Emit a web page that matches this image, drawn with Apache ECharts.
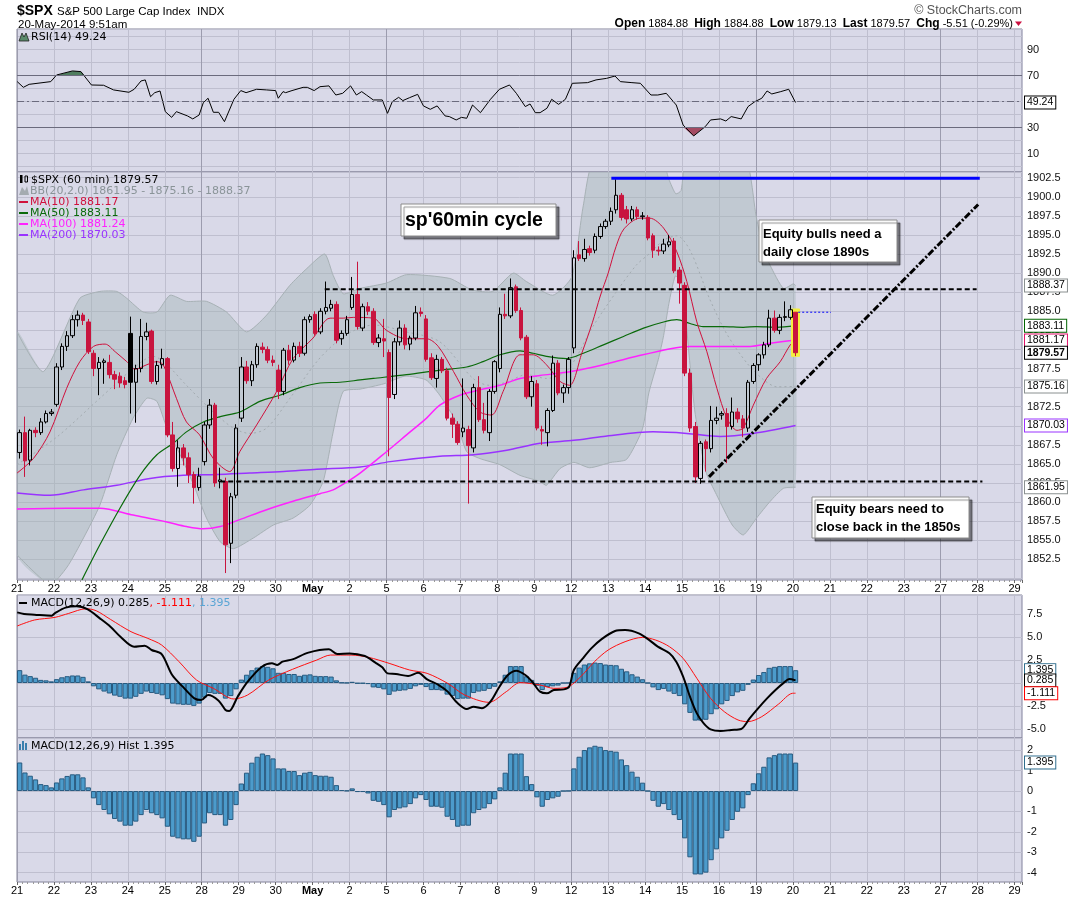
<!DOCTYPE html>
<html><head><meta charset="utf-8">
<script src="https://cdn.jsdelivr.net/npm/echarts@6/dist/echarts.min.js"></script>
<style>html,body{margin:0;padding:0;background:#fff}#c{width:1075px;height:897px}</style>
</head><body><div id="c"></div>
<script>
// ---------------- DATA ----------------
const dayLabels = ['21','22','23','24','25','28','29','30','May','2','5','6','7','8','9','12','13','14','15','16','19','20','21','22','23','27','28','29'];

const open = [
1866.5,1869.1,1865.5,1869.4,1869.1,1870.5,1871.6,
1872.8,1877.7,1880.4,1881.8,1883.9,1884.5,1883.6,
1879.5,1877.5,1878.3,1878.3,1876.7,1876.5,1875.9,
1882.1,1875.7,1877.5,1881.7,1882.4,1875.8,1878.0,
1878.8,1868.8,1864.4,1867.1,1865.8,1863.6,1861.9,
1865.3,1870.1,1872.7,1862.7,1862.7,1854.6,1860.9,
1871.0,1877.7,1875.9,1878.0,1880.3,1880.0,1878.6,
1877.3,1874.5,1879.9,1878.6,1880.4,1879.5,1883.9,
1884.6,1882.3,1885.0,1885.4,1885.9,1881.4,1882.1,
1885.5,1887.2,1882.8,1885.6,1885.0,1880.9,1881.4,
1879.6,1874.1,1881.0,1882.8,1880.7,1881.5,1884.9,
1884.0,1878.9,1876.2,1878.7,1877.2,1871.0,1870.2,
1869.2,1869.5,1867.1,1875.0,1870.8,1869.1,1874.5,
1877.5,1884.6,1884.4,1888.2,1885.1,1881.6,1873.8,
1875.5,1869.5,1869.1,1872.0,1878.2,1874.3,1875.0,
1880.2,1892.4,1891.9,1893.2,1893.0,1894.8,1896.1,
1896.8,1898.3,1900.2,1898.3,1897.1,1898.3,1897.4,
1897.3,1894.9,1893.0,1892.9,1893.7,1894.2,1890.4,
1888.4,1876.9,1869.9,1863.1,1867.9,1867.0,1870.7,
1871.4,1871.6,1869.9,1871.8,1870.9,1869.7,1875.8,
1878.0,1879.3,1880.6,1884.1,1882.5,1884.2,1884.2,
1884.88];
const high = [
1869.5,1871.2,1869.6,1869.8,1871.0,1872.0,1872.2,
1878.2,1880.8,1882.4,1884.5,1885.1,1884.8,1884.0,
1879.9,1879.0,1878.8,1879.3,1877.2,1877.0,1876.4,
1884.3,1878.0,1884.0,1883.5,1882.6,1878.5,1880.1,
1879.0,1870.5,1868.1,1867.6,1866.5,1864.0,1864.5,
1870.5,1873.5,1873.0,1864.5,1863.2,1861.2,1870.2,
1879.0,1878.5,1878.5,1880.8,1880.9,1880.4,1879.2,
1878.0,1880.2,1880.6,1880.9,1881.0,1884.3,1884.6,
1885.0,1885.4,1888.9,1886.5,1886.3,1882.5,1884.4,
1889.5,1891.5,1886.0,1886.2,1885.4,1882.0,1884.0,
1880.0,1881.5,1883.8,1883.3,1881.8,1885.7,1885.5,
1884.5,1879.5,1879.3,1879.0,1877.6,1871.6,1870.6,
1876.2,1870.0,1875.5,1876.5,1873.0,1874.8,1878.6,
1885.5,1887.3,1889.3,1888.5,1885.5,1881.9,1876.5,
1876.0,1870.0,1872.3,1879.2,1878.6,1875.4,1879.0,
1893.0,1894.2,1894.5,1893.6,1895.2,1896.5,1897.1,
1898.6,1902.3,1900.5,1898.8,1898.8,1898.7,1898.0,
1897.6,1895.2,1893.5,1894.5,1895.0,1894.6,1890.8,
1888.8,1877.5,1870.5,1868.0,1868.2,1872.6,1872.5,
1871.9,1872.3,1873.7,1872.3,1871.4,1876.0,1878.2,
1879.5,1881.0,1885.2,1885.1,1884.6,1886.3,1885.8,
1884.88];
const low = [
1865.7,1863.3,1864.8,1868.5,1868.8,1870.3,1871.3,
1872.5,1877.3,1879.8,1881.5,1883.0,1883.2,1879.4,
1876.5,1874.0,1875.5,1876.2,1874.8,1875.0,1874.9,
1871.6,1870.4,1877.0,1881.2,1875.5,1875.4,1877.5,
1868.5,1864.0,1862.0,1864.8,1862.5,1859.8,1861.5,
1864.8,1869.6,1862.0,1861.8,1850.7,1852.0,1860.5,
1870.5,1875.5,1875.2,1877.6,1879.5,1878.2,1877.8,
1873.5,1874.0,1878.0,1878.3,1879.0,1879.2,1883.5,
1881.8,1882.0,1884.6,1885.0,1880.8,1880.6,1881.8,
1885.2,1882.6,1882.4,1884.5,1880.6,1880.3,1879.0,
1866.0,1873.5,1880.5,1880.0,1879.9,1881.2,1884.3,
1878.4,1876.0,1875.0,1876.9,1870.7,1868.4,1867.5,
1868.5,1859.8,1866.5,1870.5,1869.0,1868.0,1874.2,
1877.0,1884.0,1884.1,1884.8,1881.2,1873.5,1872.5,
1869.4,1867.5,1867.3,1871.8,1874.0,1873.0,1874.2,
1879.5,1891.6,1891.5,1892.3,1892.6,1894.5,1895.8,
1896.3,1897.8,1896.9,1896.5,1896.8,1897.0,1897.0,
1894.3,1892.0,1892.3,1892.5,1893.4,1890.0,1886.0,
1876.5,1869.2,1862.5,1862.4,1864.0,1866.5,1870.2,
1870.8,1865.1,1869.5,1870.4,1868.5,1869.2,1875.5,
1877.2,1878.8,1880.3,1882.2,1882.0,1883.7,1883.9,
1879.13];
const close = [
1869.1,1865.4,1869.4,1869.1,1870.5,1871.6,1871.8,
1877.7,1880.4,1881.8,1883.9,1884.5,1883.8,1879.7,
1877.5,1878.3,1878.5,1876.7,1876.1,1875.6,1875.4,
1875.7,1877.5,1881.7,1882.3,1875.8,1877.9,1878.8,
1868.8,1864.4,1867.1,1865.8,1863.6,1861.9,1863.4,
1870.1,1872.7,1862.5,1862.9,1854.4,1860.7,1869.7,
1877.7,1875.9,1878.0,1880.4,1880.0,1878.6,1878.3,
1874.5,1879.9,1878.6,1880.4,1879.5,1883.9,1884.3,
1882.1,1885.0,1885.5,1885.9,1881.2,1882.1,1883.9,
1887.2,1883.0,1885.6,1885.0,1880.9,1881.5,1881.1,
1873.7,1881.0,1882.8,1880.6,1881.5,1884.8,1884.7,
1878.7,1876.3,1878.7,1877.2,1871.0,1870.2,1867.8,
1869.7,1867.4,1875.0,1870.8,1869.4,1874.5,1878.4,
1884.6,1884.4,1888.1,1885.1,1881.5,1873.8,1875.8,
1869.7,1869.3,1872.0,1878.2,1874.3,1875.0,1878.7,
1892.0,1891.9,1893.1,1892.7,1894.8,1896.1,1896.8,
1898.1,1900.2,1897.3,1897.1,1898.3,1897.4,1897.5,
1894.6,1893.0,1892.9,1893.8,1894.1,1890.3,1888.7,
1876.9,1869.7,1863.3,1867.7,1867.0,1870.7,1871.0,
1871.6,1869.9,1871.8,1870.9,1869.7,1875.7,1877.9,
1879.3,1880.6,1884.1,1882.5,1884.2,1884.3,1885.2,
1879.57];

// line readings: [bar index, value]
const ma10 = [[-0.5,1863.8],[2.6,1865.7],[5.75,1869.2],[8.9,1874.9],[11.4,1878.4],[14,1880.4],[16.2,1880.7],[18.1,1879.7],[20.3,1878.4],[21.9,1877.4],[24.1,1878],[26,1878.4],[27.2,1878],[29.7,1873.6],[31.6,1870.5],[34.1,1868.8],[36.7,1865.7],[39.8,1864],[41.7,1866.6],[44.9,1870.1],[48.7,1874.5],[51.8,1878.8],[55.6,1881.5],[58.8,1884.1],[61.3,1884.1],[63.2,1884.2],[67,1884.1],[69.5,1882.5],[73.3,1881.4],[77.1,1881.4],[79.3,1880.4],[82.2,1877.1],[84.7,1874],[87.2,1871.8],[89.4,1871.4],[91.6,1874.5],[94.8,1879.3],[97.3,1879.3],[99.8,1878],[102.4,1875.8],[104.2,1875.3],[106.5,1879.5],[108.5,1883.5],[110,1887],[111.5,1890],[113,1893.5],[114.5,1895.8],[117.5,1897.2],[119.4,1897.2],[122,1895.9],[124.5,1892.8],[126.4,1888.9],[128.3,1883.6],[130.2,1879.7],[132.1,1874.9],[134,1871],[135.9,1869.4],[137.1,1869.7],[139,1872.7],[141.5,1876.2],[144.1,1878.4],[146,1880.6],[147,1881.17]];
const ma50 = [[11.8,1849.8],[15.2,1854.4],[19,1859.2],[22.8,1863.5],[26,1866.2],[29.1,1867.7],[31.6,1869.2],[34.8,1870.5],[38,1871.2],[41.7,1871.8],[45.5,1873.2],[49.3,1874],[53.1,1875],[56.9,1875.6],[60.7,1875.7],[64.5,1876],[67,1876.2],[73.3,1876.7],[79.6,1877.3],[84.7,1877.7],[87.8,1878.4],[91,1879.3],[94.8,1879.8],[97.3,1879.5],[99.8,1879.1],[103.6,1878.8],[106.8,1879.5],[110.6,1880.6],[114.4,1881.7],[118.2,1882.8],[122,1883.6],[124.5,1883.9],[127,1883.4],[129.5,1883],[133.3,1883],[137.1,1882.9],[139.6,1883],[143.4,1882.9],[147,1883.11]];
const ma100 = [[-0.5,1859.1],[8.9,1859.2],[15.2,1859.2],[21.5,1858.3],[27.9,1857.4],[31.6,1856.8],[34.8,1856.5],[38,1856.8],[41.7,1857.7],[46.8,1859],[51.8,1860.1],[56.9,1861.1],[59.4,1861.6],[61.9,1862.6],[64.5,1863.8],[69.5,1866.6],[73.3,1868.8],[77.1,1871],[79.6,1872.7],[83.4,1874],[87.2,1874.7],[91,1875.3],[94.8,1876.2],[98.6,1876.6],[103.6,1877],[108.1,1877.6],[110.6,1878],[116.9,1879.1],[123.3,1880.1],[127,1880.4],[132.7,1880.4],[138.4,1880.4],[142.2,1880.8],[147,1881.24]];
const ma200 = [[-0.5,1861.2],[5.75,1860.9],[12.1,1861.6],[18.4,1862.2],[24.7,1863.1],[31,1863.5],[37.3,1863.6],[43.6,1863.8],[50,1864],[56.3,1864.3],[64.5,1864.6],[70.2,1865.3],[79.6,1866],[86,1866.2],[92.3,1866.8],[98.6,1867.7],[105,1868.1],[110.6,1868.6],[120,1869.2],[126.4,1869],[132.7,1868.6],[139,1869],[147,1870.03]];
const bbUpper = [[-0.5,1882.3],[4.5,1877.1],[11.4,1886.7],[15.2,1887.6],[18.4,1887.6],[20.3,1886.7],[23.4,1884.9],[26,1884.9],[28.5,1887.1],[31.6,1886.3],[35.4,1886.3],[39.2,1884.9],[43,1882.3],[46.8,1884.5],[51.2,1888.4],[54.4,1890.6],[57.8,1892.5],[59.4,1889.7],[61.3,1887.3],[64.5,1888],[69.5,1888.7],[73.3,1889.8],[81.5,1889.3],[85.7,1887.8],[89.6,1887.6],[93.5,1890],[96,1888.9],[101,1887.1],[104.6,1889.5],[106.8,1898.9],[109,1905],[121,1906],[123,1902.3],[124.3,1900.4],[125.3,1900.8],[126.5,1905],[137,1906],[139.6,1897.2],[140.9,1893.2],[142.2,1891],[144.7,1888],[146.6,1888.6],[147,1888.37]];
const bbLower = [[-0.5,1853.1],[5.75,1849.2],[9,1851.5],[12.1,1855.3],[15.2,1859.6],[18.4,1866.2],[21.5,1871],[24.1,1873.6],[26,1873.2],[27.9,1869.7],[30.4,1866.2],[33,1862.2],[35.4,1857.9],[38,1854.8],[40.5,1853.9],[44.3,1855.3],[48.1,1857],[51.8,1857.9],[55,1859.6],[57.5,1862.7],[59.4,1869.2],[61.3,1874.5],[64.5,1874.8],[69,1875.5],[73,1876.5],[77,1876],[79.6,1874],[82.7,1870.5],[84.7,1866.6],[87.2,1865.7],[91,1864.9],[94.8,1863.5],[98.6,1862.7],[99.8,1862.2],[102.4,1864.4],[105,1865.2],[108,1864.5],[112,1865.2],[115,1865.6],[118,1869.6],[119.2,1874.3],[121,1878.7],[122,1881.8],[123,1886],[124.2,1889.6],[125.2,1889],[126.2,1884],[127,1878],[128,1871.5],[130,1864],[132,1861],[135,1857],[137.1,1855.7],[139.6,1857.9],[142.2,1860.1],[144.7,1861.8],[147,1861.95]];
const bbMid = [[-0.5,1864.9],[7,1868.5],[15.2,1873.6],[21.5,1877.5],[25.3,1879.1],[27.9,1878],[31.6,1875.3],[36.7,1871.8],[40.5,1869.7],[43.6,1869],[46.8,1869.7],[51.2,1873.6],[56.3,1878.4],[59.4,1880.6],[62.5,1882.2],[67,1883.2],[73.3,1882.3],[79.6,1881],[85.9,1876.2],[89,1875.3],[92.2,1875.7],[96,1876.7],[99.8,1876.2],[103.8,1877.3],[108.6,1883],[113,1887.5],[116.9,1891.1],[119.4,1892.6],[122,1894.3],[124.5,1894.9],[127,1893],[130.8,1886.5],[134,1882],[137.8,1878.2],[141,1876],[143.5,1875.1],[147,1875.16]];
const rsi = [[-0.46,65.3],[0.7,60.9],[1.8,63.2],[5.9,65.3],[7,70.4],[10,73.5],[11.6,73],[13.6,62.7],[15.9,62.5],[17.8,58.9],[20.7,57.1],[21.7,59.4],[23,65.8],[23.8,66.6],[24.8,53.7],[25.6,56.8],[26.6,58.1],[27.6,42.2],[28.8,37.8],[29.7,42.2],[31.8,38.9],[32.8,36.6],[34,39.6],[34.8,49.1],[35.7,52.5],[36.7,41.7],[37.7,41.7],[38.8,34.5],[40.6,51.7],[41.9,58.4],[42.9,56.8],[44.9,59.4],[46.8,58.9],[48.5,58.4],[49,52.5],[49.9,57.6],[50.4,56.8],[51.6,58.4],[53.7,60.9],[54.5,60.9],[55.8,58.4],[56.9,61.4],[58.6,62],[59.9,55],[61.2,56.3],[62.7,62],[63.8,55],[64.8,57.6],[65.7,55],[67,51.2],[68.7,51.2],[69.7,40.9],[70.6,49.9],[71.8,53.2],[72.6,50.7],[73.9,53],[75.4,55.5],[76.5,46.6],[77.8,44],[79.1,46.6],[80.6,38.9],[81.4,38.4],[82.7,35.8],[83.7,37.8],[84.7,37.1],[85.8,47.3],[87.3,41.4],[89.2,51.7],[90.9,59.4],[92.8,62.7],[94.1,56.3],[95.8,46.1],[96.7,48.1],[97.7,41.4],[98.6,41.4],[99.9,44.8],[100.8,51.7],[102.1,47.8],[103.4,51.7],[104.7,64],[107.6,64.5],[109.2,66.6],[111.2,67.8],[112.8,69.6],[113.8,65.3],[116,64.5],[117.6,64],[119.6,55],[120.9,55],[122.5,56.3],[124.4,47.3],[125.7,31.9],[127.7,23.5],[129.9,30.7],[130.9,35.8],[132.8,36.6],[133.8,35],[134.8,38.4],[136.7,36.6],[138,46.1],[139.3,49.9],[140.6,52.5],[141.6,58.1],[142.5,55.8],[144.2,57.6],[145.7,59.4],[147,49.24]];
const rsiOverbought = [[6.9,70],[7,70.4],[10,73.5],[11.6,73],[12.3,70]];
const rsiOversold = [[125.8,30],[127.7,23.5],[129.6,30]];
const macd = [[-0.46,7.68],[0.84,7.5],[2.8,7.43],[6.07,7.32],[6.7,7.6],[8.7,8.2],[10.8,8.35],[12.9,8.0],[15.2,7.03],[17.2,6.12],[19.1,5.03],[21.7,3.95],[23.7,4.06],[25,3.59],[26.9,3.15],[28.9,0.87],[30.9,-0.4],[33.1,-1.67],[34.4,-1.85],[35.7,-1.3],[37.7,-1.92],[39,-2.93],[39.7,-3.04],[41.3,-1.49],[43.2,0.14],[45.9,1.77],[47.8,2.14],[48.8,1.96],[49.8,2.32],[51.7,2.57],[54.7,3.3],[58.6,3.66],[60.2,3.15],[62.5,3.22],[65.4,2.93],[67.4,2.21],[68.7,1.7],[69.7,1.05],[71.3,0.98],[73.6,0.76],[75.5,1.12],[77.2,0.4],[79.4,-0.22],[81.1,-0.94],[83,-2.21],[84.7,-2.83],[86,-2.58],[87.6,-2.75],[89.2,-2.03],[90.9,-0.4],[92.5,0.87],[94.1,1.34],[95.8,0.87],[97.1,0.14],[98.6,-0.94],[99.9,-1.12],[101.2,-0.76],[103.1,-0.69],[104.1,-0.4],[105,1.41],[106.7,2.68],[108.3,3.77],[110.2,4.75],[112.8,5.65],[114.7,5.76],[117.3,5.4],[119.3,4.67],[120.9,3.95],[123.1,3.23],[124.4,2.32],[125.7,0.69],[127,-1.49],[128.3,-3.3],[129.6,-4.38],[130.9,-5.04],[132.8,-5.22],[134.8,-5.11],[136.7,-5.0],[138.3,-3.84],[139.9,-2.75],[141.6,-1.67],[143.2,-0.76],[144.8,0.04],[145.8,0.43],[147,0.285]];
const signal = [[-0.46,6.2],[2.8,6.85],[6.7,7.14],[9.3,7.57],[12.6,8.08],[14.5,7.86],[17.2,6.92],[21.1,5.58],[24.3,4.85],[26.9,4.13],[30.2,2.32],[33.5,0.33],[36.7,-0.58],[40.6,-1.74],[43.2,-1.3],[47.2,0.33],[51.7,1.49],[56.3,2.5],[58.9,3.04],[62.8,3.04],[66.1,2.79],[70,2.14],[73.9,1.41],[77.2,1.05],[81.1,-0.04],[84.3,-1.3],[88.9,-2.1],[92.2,-0.94],[94.8,0.04],[98.6,-0.22],[101.2,-0.58],[103.7,-0.47],[106.3,0.69],[108.9,2.32],[111.5,3.59],[114.7,4.49],[118,4.96],[120.5,4.67],[123.1,3.95],[125.7,2.68],[128.3,0.51],[130.9,-1.67],[133.5,-3.12],[136.1,-4.02],[138,-4.2],[140.6,-3.66],[143.8,-2.28],[146.4,-1.12],[147,-1.111]];
const hist = [1.40,0.91,0.75,0.57,0.34,0.29,0.18,
0.42,0.62,0.74,0.82,0.82,0.67,0.18,
-0.36,-0.69,-0.93,-1.14,-1.37,-1.50,-1.70,
-1.70,-1.50,-1.18,-0.93,-1.09,-1.18,-1.34,
-1.75,-2.24,-2.32,-2.37,-2.37,-2.49,-2.24,
-1.59,-1.09,-1.18,-1.18,-1.70,-1.42,-0.69,
0.37,0.90,1.39,1.68,1.84,1.76,1.60,
1.11,1.11,0.98,0.98,0.78,0.90,0.94,
0.78,0.75,0.75,0.70,0.29,0.05,0.02,
0.13,-0.05,-0.05,-0.12,-0.48,-0.53,-0.69,
-1.29,-0.93,-0.85,-0.80,-0.64,-0.36,-0.20,
-0.44,-0.77,-0.77,-0.82,-1.26,-1.42,-1.75,
-1.70,-1.70,-1.09,-0.93,-0.85,-0.64,-0.41,
0.18,0.90,1.84,1.84,1.84,0.73,0.34,
-0.31,-0.77,-0.44,-0.36,-0.28,0.00,0.01,
1.11,1.68,2.01,2.14,2.22,2.17,2.01,
1.97,1.93,1.55,1.27,0.95,0.70,0.41,
0.00,-0.48,-0.77,-0.64,-0.93,-1.18,-1.42,
-2.32,-3.25,-4.09,-4.09,-4.00,-3.39,-2.86,
-2.32,-1.95,-1.42,-1.02,-0.85,-0.20,0.38,
0.87,1.19,1.65,1.76,1.84,1.84,1.84,
1.395];

// annotations (bar-index x, price)
const blueLine = [[112.6,1902.43],[182.4,1902.43]];
const upperDashed = [[57.8,1887.9],[181.3,1887.9]];
const lowerDashed = [[38,1862.7],[182.4,1862.7]];
const trendLine = [[130.6,1863.3],[181.6,1899.0]];
const openDotted = [[147.5,1884.88],[153.7,1884.88]];
const highlightBox = [1885.3, 1879.1];
const mainTags = [1888.37, 1883.11, 1881.17, 1879.57, 1875.16, 1870.03, 1861.95];
const rsiTag = [49.24];
const macdTags = [1.395, 0.285, -1.111];
const histTag = [1.395];

// ---------------- STYLE ----------------
const BG = '#d9d9e8', GRD = '#bfbfcf', MON = '#9c9cae', BRD = '#85859a';
const AX = 'Liberation Sans', LG = 'DejaVu Sans';
const RED = '#c8143e';
const toXY = arr => arr.map(p => [p[0] + 0.5, p[1]]);

function xAx(gi, show) {
  return {
    type: 'value', gridIndex: gi, min: 0, max: 190.4, minInterval: 7, maxInterval: 7,
    axisLine: {show: false, onZero: false},
    axisTick: {show: show, length: 3, lineStyle: {color: '#666'}},
    minorTick: {show: show, splitNumber: 7, length: 2, lineStyle: {color: '#999'}},
    axisLabel: {
      show: show, margin: 3, fontFamily: AX, fontSize: 11, color: '#000',
      formatter: function (v) {
        const k = Math.round(v / 7);
        if (Math.abs(v - k * 7) > 0.01 || k >= dayLabels.length) return '';
        return dayLabels[k] === 'May' ? '{m|May}' : dayLabels[k];
      },
      rich: {m: {fontFamily: AX, fontSize: 11, fontWeight: 'bold', color: '#000'}}
    },
    splitLine: {show: true, lineStyle: {color: [MON, GRD, GRD, GRD, GRD], width: 1}}
  };
}
function yAx(gi, min, max, step, fmt) {
  return {
    type: 'value', gridIndex: gi, position: 'right', min: min, max: max,
    minInterval: step, maxInterval: step, splitNumber: 5,
    axisLine: {show: false, onZero: false}, axisTick: {show: false},
    axisLabel: {margin: 5, fontFamily: AX, fontSize: 11, color: '#111', formatter: fmt},
    splitLine: {show: true, lineStyle: {color: GRD, width: 1}}
  };
}
function tag(v, border, bold) {
  return {
    yAxis: v, lineStyle: {color: 'rgba(0,0,0,0)', width: 0},
    label: {
      show: true, position: 'end', distance: 3, formatter: String(v),
      backgroundColor: '#fff', borderColor: border, borderWidth: 1, padding: [1, 2, 0, 2],
      fontFamily: AX, fontSize: 10.5, lineHeight: 11, color: '#000', fontWeight: bold ? 'bold' : 'normal'
    }
  };
}
function lineSeries(gi, data, color, width, extra) {
  return Object.assign({
    type: 'line', xAxisIndex: gi, yAxisIndex: gi, data: toXY(data), showSymbol: false, symbol: 'none',
    lineStyle: {color: color, width: width}, silent: true, z: 3, animation: false
  }, extra || {});
}

const candleData = open.map(function (o, i) {
  const c = close[i];
  const prev = i > 0 ? close[i - 1] : o;
  const col = c < prev ? RED : '#000';
  const fill = c >= o ? 'rgba(0,0,0,0)' : col;
  return {value: [i + 0.5, o, c, low[i], high[i]],
    itemStyle: {color: fill, color0: fill, borderColor: col, borderColor0: col, borderColorDoji: col, borderWidth: 1}};
});
const histData = hist.map((v, i) => [i + 0.5, v]);

const mainTagColors = ['#8a9090', '#006400', '#e0106a', '#000', '#8a9090', '#9933ff', '#8a9090'];

const series = [
  // RSI
  lineSeries(0, rsiOverbought, 'rgba(0,0,0,0)', 0, {areaStyle: {origin: 70, color: '#4f7d5e', opacity: 1}, z: 2}),
  lineSeries(0, rsiOversold, 'rgba(0,0,0,0)', 0, {areaStyle: {origin: 30, color: '#a34a62', opacity: 1}, z: 2}),
  lineSeries(0, rsi, '#000', 1, {
    markLine: {silent: true, symbol: 'none', animation: false, data: [
      {yAxis: 70, lineStyle: {color: '#6b6b7d', width: 1, type: 'solid'}, label: {show: false}},
      {yAxis: 30, lineStyle: {color: '#6b6b7d', width: 1, type: 'solid'}, label: {show: false}},
      {yAxis: 50, lineStyle: {color: '#6b6b7d', width: 1, type: [7, 3, 2, 3]}, label: {show: false}},
      tag(rsiTag[0], '#000', false)
    ]}
  }),
  // Bollinger band
  {
    type: 'custom', xAxisIndex: 1, yAxisIndex: 1, z: 1, silent: true, clip: true, animation: false,
    data: [[1, 1870]],
    renderItem: function (params, api) {
      const up = toXY(bbUpper).map(p => api.coord(p));
      const lo = toXY(bbLower).map(p => api.coord(p));
      const poly = up.concat(lo.slice().reverse());
      return {type: 'group', children: [
        {type: 'polygon', shape: {points: poly, smooth: 0.2}, style: {fill: 'rgba(160,178,178,0.42)'}},
        {type: 'polyline', shape: {points: up, smooth: 0.2}, style: {stroke: '#a7b1b5', fill: null, lineWidth: 1}},
        {type: 'polyline', shape: {points: lo, smooth: 0.2}, style: {stroke: '#a7b1b5', fill: null, lineWidth: 1}}
      ]};
    }
  },
  lineSeries(1, bbMid, '#a3abb0', 1, {lineStyle: {color: '#a3abb0', width: 1, type: [2, 3]}, smooth: 0.3, z: 2}),
  lineSeries(1, ma200, '#9933ff', 1.5, {smooth: 0.3}),
  lineSeries(1, ma100, '#ff22ff', 1.5, {smooth: 0.3}),
  lineSeries(1, ma50, '#0a6a0a', 1.2, {smooth: 0.3}),
  lineSeries(1, ma10, '#d0103c', 1, {smooth: 0.3}),
  // highlight of last candle
  {
    type: 'candlestick', xAxisIndex: 1, yAxisIndex: 1, barWidth: 8, z: 4, silent: true, animation: false,
    encode: {x: 0, y: [1, 2, 3, 4]},
    data: [{value: [147.5, highlightBox[0], highlightBox[1], highlightBox[1], highlightBox[0]],
      itemStyle: {color: '#f4f040', color0: '#f4f040', borderColor: '#f4f040', borderColor0: '#f4f040'}}]
  },
  // candles
  {
    type: 'candlestick', xAxisIndex: 1, yAxisIndex: 1, barWidth: 4, z: 5, silent: true, animation: false,
    encode: {x: 0, y: [1, 2, 3, 4]},
    data: candleData,
    markLine: {silent: true, symbol: 'none', animation: false, z: 10,
      data: mainTags.map((v, k) => tag(v, mainTagColors[k], k === 3))}
  },
  // annotations
  lineSeries(1, blueLine.map(p => [p[0] - 0.5, p[1]]), '#0000ff', 3, {z: 6}),
  lineSeries(1, upperDashed, '#000', 2, {lineStyle: {color: '#000', width: 2, type: [5, 3]}, z: 6}),
  lineSeries(1, lowerDashed, '#000', 2, {lineStyle: {color: '#000', width: 2, type: [5, 3]}, z: 6}),
  lineSeries(1, trendLine, '#000', 3, {lineStyle: {color: '#000', width: 3, type: [7, 2, 2, 2]}, z: 6}),
  lineSeries(1, openDotted, '#0000ff', 1, {lineStyle: {color: '#0000ff', width: 1, type: [2, 2]}, z: 6}),
  // MACD
  {
    type: 'bar', xAxisIndex: 2, yAxisIndex: 2, data: histData, barWidth: 5.28, z: 2, silent: true, animation: false,
    itemStyle: {color: '#4c9bcb', borderColor: '#285b80', borderWidth: 1}
  },
  lineSeries(2, signal, '#ff1010', 1, {smooth: 0.3}),
  lineSeries(2, macd, '#000', 2, {smooth: 0.3, z: 4,
    markLine: {silent: true, symbol: 'none', animation: false, z: 10, data: [
      tag(macdTags[0], '#2f6d8d', false), tag(macdTags[1], '#000', false), tag(macdTags[2], '#ff0000', false)
    ]}
  }),
  // Histogram panel
  {
    type: 'bar', xAxisIndex: 3, yAxisIndex: 3, data: histData, barWidth: 5.28, z: 2, silent: true, animation: false,
    itemStyle: {color: '#4c9bcb', borderColor: '#285b80', borderWidth: 1},
    markLine: {silent: true, symbol: 'none', animation: false, z: 10, data: [tag(histTag[0], '#2f6d8d', false)]}
  }
];

function txt(x, y, text, font, fill, extra) {
  return Object.assign({type: 'text', x: x, y: y, z: 100, silent: true,
    style: {text: text, font: font, fill: fill || '#000', verticalAlign: 'middle', align: 'left'}}, extra || {});
}
function box(x, y, w, h) {
  return {type: 'rect', z: 99, silent: true, shape: {x: x, y: y, width: w, height: h},
    style: {fill: '#fff', stroke: '#8a8a8a', lineWidth: 1, shadowColor: 'rgba(0,0,0,0.45)', shadowOffsetX: 3, shadowOffsetY: 3, shadowBlur: 1}};
}
const LF = '11px "' + LG + '"';
const graphics = [
  txt(17, 11, '$SPX', 'bold 14px "' + AX + '"'),
  txt(57, 12, 'S&P 500 Large Cap Index  INDX', '11.5px "' + AX + '"'),
  txt(18, 24.5, '20-May-2014 9:51am', '11.5px "' + AX + '"'),
  {type: 'text', x: 1022, y: 11, z: 100, silent: true, style: {text: '\u00a9 StockCharts.com', font: '12.5px "' + AX + '"', fill: '#555', align: 'right', verticalAlign: 'middle'}},
  {type: 'text', x: 1013, y: 24, z: 100, silent: true, style: {
    text: '{b|Open} 1884.88  {b|High} 1884.88  {b|Low} 1879.13  {b|Last} 1879.57  {b|Chg} -5.51 (-0.29%)',
    font: '11px "' + AX + '"', fill: '#000', align: 'right', verticalAlign: 'middle',
    rich: {b: {fontFamily: AX, fontSize: 12, fontWeight: 'bold', fill: '#000'}}}},
  {type: 'polygon', z: 100, silent: true, shape: {points: [[1015, 21.5], [1022, 21.5], [1018.5, 26]]}, style: {fill: '#cc1040'}},
  // RSI legend
  {type: 'polygon', z: 100, silent: true, shape: {points: [[19, 41], [22, 33], [24, 37], [26, 33], [29, 41]]}, style: {fill: '#5a8a6a', stroke: '#222', lineWidth: 0.8}},
  txt(31, 37, 'RSI(14) 49.24', LF),
  // main legend
  {type: 'rect', z: 100, silent: true, shape: {x: 20, y: 175, width: 2.5, height: 8}, style: {fill: '#000'}},
  {type: 'rect', z: 100, silent: true, shape: {x: 25, y: 176, width: 2.5, height: 6}, style: {fill: 'none', stroke: '#000', lineWidth: 1}},
  txt(31, 180, '$SPX (60 min) 1879.57', LF),
  {type: 'polygon', z: 100, silent: true, shape: {points: [[19, 195], [22, 187], [25, 191], [27, 186], [29, 195]]}, style: {fill: '#a4abb0'}},
  txt(30, 191, 'BB(20,2.0) 1861.95 - 1875.16 - 1888.37', LF, '#8a9498'),
  {type: 'line', z: 100, silent: true, shape: {x1: 19, y1: 202, x2: 28, y2: 202}, style: {stroke: '#d0103c', lineWidth: 2}},
  txt(30, 202, 'MA(10) 1881.17', LF, '#d0103c'),
  {type: 'line', z: 100, silent: true, shape: {x1: 19, y1: 213, x2: 28, y2: 213}, style: {stroke: '#0a6a0a', lineWidth: 2}},
  txt(30, 213, 'MA(50) 1883.11', LF, '#0a6a0a'),
  {type: 'line', z: 100, silent: true, shape: {x1: 19, y1: 224, x2: 28, y2: 224}, style: {stroke: '#ff22ff', lineWidth: 2}},
  txt(30, 224, 'MA(100) 1881.24', LF, '#ff22ff'),
  {type: 'line', z: 100, silent: true, shape: {x1: 19, y1: 235, x2: 28, y2: 235}, style: {stroke: '#9933ff', lineWidth: 2}},
  txt(30, 235, 'MA(200) 1870.03', LF, '#9933ff'),
  // MACD legend
  {type: 'line', z: 100, silent: true, shape: {x1: 19, y1: 603, x2: 27, y2: 603}, style: {stroke: '#000', lineWidth: 2}},
  {type: 'text', x: 31, y: 603, z: 100, silent: true, style: {
    text: '{k|MACD(12,26,9) 0.285}{r|, -1.111}{c|, 1.395}', font: LF, verticalAlign: 'middle',
    rich: {k: {fontFamily: LG, fontSize: 11, fill: '#000'}, r: {fontFamily: LG, fontSize: 11, fill: '#ff0000'}, c: {fontFamily: LG, fontSize: 11, fill: '#5aa5d5'}}}},
  // Hist legend
  {type: 'rect', z: 100, silent: true, shape: {x: 19, y: 744, width: 2, height: 6}, style: {fill: '#3a7fae'}},
  {type: 'rect', z: 100, silent: true, shape: {x: 22, y: 741, width: 2, height: 9}, style: {fill: '#3a7fae'}},
  {type: 'rect', z: 100, silent: true, shape: {x: 25, y: 743, width: 2, height: 7}, style: {fill: '#3a7fae'}},
  txt(31, 746, 'MACD(12,26,9) Hist 1.395', LF),
  // annotation boxes
  box(401, 204, 155, 32),
  txt(405, 220.5, "sp'60min cycle", 'bold 19.5px "' + AX + '"'),
  box(759, 220, 138, 42),
  txt(763, 234, 'Equity bulls need a', 'bold 13px "' + AX + '"'),
  txt(763, 252, 'daily close 1890s', 'bold 13px "' + AX + '"'),
  box(812, 497, 157, 41),
  txt(816, 509.5, 'Equity bears need to', 'bold 13px "' + AX + '"'),
  txt(816, 527, 'close back in the 1850s', 'bold 13px "' + AX + '"')
];

const chart = echarts.init(document.getElementById('c'));
chart.setOption({
  animation: false,
  backgroundColor: '#fff',
  grid: [
    {left: 17, top: 29, width: 1005, height: 143, show: true, backgroundColor: BG, borderColor: BRD, borderWidth: 1},
    {left: 17, top: 172, width: 1005, height: 408, show: true, backgroundColor: BG, borderColor: BRD, borderWidth: 1},
    {left: 17, top: 595, width: 1005, height: 143, show: true, backgroundColor: BG, borderColor: BRD, borderWidth: 1},
    {left: 17, top: 738, width: 1005, height: 144, show: true, backgroundColor: BG, borderColor: BRD, borderWidth: 1}
  ],
  xAxis: [xAx(0, false), xAx(1, true), xAx(2, false), xAx(3, true)],
  yAxis: [
    yAx(0, -4.23, 105.77, 10, v => ([10, 30, 70, 90].indexOf(Math.round(v)) >= 0 && Math.abs(v - Math.round(v)) < 0.01) ? String(Math.round(v)) : ''),
    yAx(1, 1849.79, 1903.25, 2.5, v => (v > 1851 && v < 1903) ? v.toFixed(1) : ''),
    yAx(2, -5.98, 9.57, 2.5, v => (v < -5.5 || v > 9 || Math.abs(v) < 0.01) ? '' : v.toFixed(1)),
    yAx(3, -4.46, 2.6, 1, v => (Math.abs(v - Math.round(v)) < 0.01 && v > -4.4 && v < 2.5) ? String(Math.round(v)) : '')
  ],
  series: series,
  graphic: graphics
});
</script>
</body></html>
